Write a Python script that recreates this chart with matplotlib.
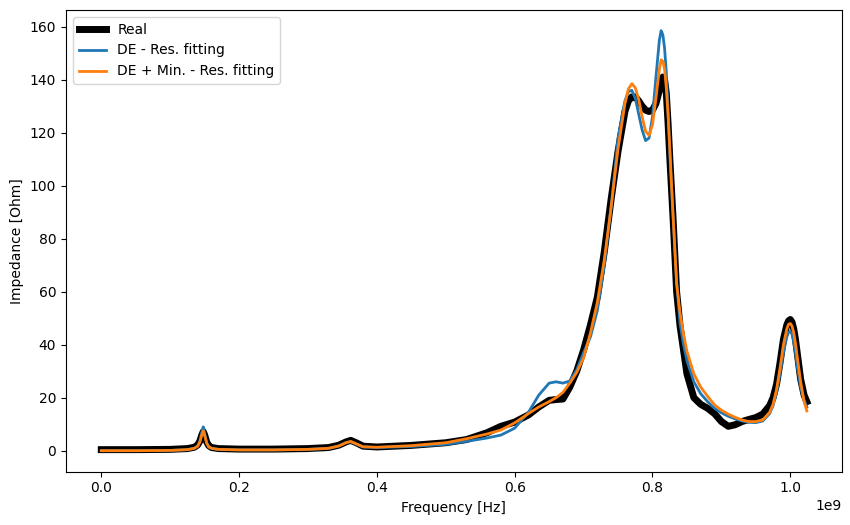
import numpy as np
import matplotlib
matplotlib.use("Agg")
import matplotlib.pyplot as plt

# Frequency grid in GHz (shared by all series)
freq_ghz = [0.0, 0.05, 0.10, 0.125, 0.135, 0.14, 0.143, 0.146, 0.148, 0.150, 0.153, 0.156,
            0.16, 0.17, 0.2, 0.25, 0.3, 0.33, 0.345, 0.355, 0.362, 0.37, 0.38, 0.4, 0.45,
            0.5, 0.53, 0.56, 0.58, 0.6, 0.62, 0.635, 0.65, 0.66, 0.67, 0.68, 0.69, 0.70,
            0.71, 0.72, 0.73, 0.74, 0.75, 0.76, 0.765, 0.77, 0.775, 0.78, 0.785, 0.79,
            0.795, 0.80, 0.805, 0.81, 0.8125, 0.815, 0.8175, 0.82, 0.8225, 0.825, 0.8275,
            0.83, 0.835, 0.84, 0.845,
            0.85, 0.86, 0.87, 0.88, 0.89, 0.90, 0.91, 0.92, 0.93, 0.94, 0.95, 0.96, 0.97,
            0.975, 0.98, 0.985, 0.99, 0.995, 0.9975, 1.0, 1.0025, 1.005, 1.0075, 1.01,
            1.015, 1.02, 1.024]

real = [0.4, 0.4, 0.5, 0.8, 1.3, 2.2, 3.6, 6.0, 7.2, 6.0, 3.3, 1.9,
        1.2, 0.8, 0.6, 0.6, 0.8, 1.2, 2.1, 3.3, 3.9, 3.0, 1.7, 1.4, 2.0,
        3.0, 4.2, 6.8, 9.2, 10.8, 13.5, 16.5, 19.0, 19.3, 19.5, 24.0, 30.0, 38.0,
        47.5, 58.0, 75.0, 95.0, 113.0, 128.0, 132.0, 133.5, 133.5, 132.0, 130.0, 128.5,
        128.0, 128.5, 131.0, 136.0, 139.5, 141.0, 140.0, 135.0, 124.0, 111.0, 99.0,
        87.0, 60.0, 47.0, 38.0,
        29.0, 20.0, 17.5, 16.0, 14.0, 11.0, 9.2, 9.8, 11.0, 11.8, 12.5, 13.8, 17.0,
        20.0, 25.0, 33.0, 42.0, 47.5, 49.0, 49.5, 48.5, 46.0, 42.0, 37.0,
        27.0, 21.0, 18.5]

de_fit = [0.0, 0.0, 0.1, 0.4, 0.9, 1.8, 3.5, 7.0, 9.0, 6.5, 3.0, 1.5,
          0.9, 0.5, 0.3, 0.3, 0.5, 0.9, 1.8, 3.0, 3.4, 2.5, 1.4, 1.2, 1.6,
          2.4, 3.5, 4.8, 5.9, 8.5, 14.5, 21.0, 25.5, 26.0, 25.5, 26.3, 30.5, 37.0,
          43.0, 53.0, 70.0, 92.0, 118.0, 132.0, 135.5, 136.0, 133.0, 127.0, 121.0, 117.0,
          118.0, 126.0, 141.0, 155.0, 158.5, 157.0, 152.0, 143.0, 129.0, 113.0, 100.0,
          88.0, 64.0, 48.0, 40.0,
          34.0, 26.0, 21.5, 18.5, 16.0, 14.3, 13.0, 12.0, 11.2, 10.7, 10.6, 11.2, 14.0,
          17.0, 22.0, 29.0, 37.0, 43.0, 44.7, 45.0, 44.0, 41.0, 37.0, 32.0,
          24.0, 19.0, 16.5]

de_min_fit = [0.0, 0.0, 0.1, 0.4, 0.9, 1.7, 3.2, 6.0, 7.5, 5.8, 2.8, 1.4,
              0.9, 0.5, 0.3, 0.3, 0.5, 0.9, 1.8, 3.0, 3.5, 2.6, 1.5, 1.3, 1.9,
              3.0, 4.5, 6.3, 7.8, 10.5, 14.0, 16.5, 18.5, 20.0, 22.0, 25.5, 29.5, 35.0,
              44.5, 56.0, 72.0, 92.0, 114.0, 131.0, 136.5, 138.5, 137.0, 132.5, 126.0, 120.5,
              119.0, 123.0, 133.0, 144.0, 147.5, 147.0, 144.0, 137.0, 127.0, 115.0, 101.0,
              88.0, 63.0, 52.0, 44.0,
              37.5, 29.0, 24.0, 20.5, 17.3, 15.3, 13.8, 12.6, 11.6, 11.0, 11.0, 11.6, 14.5,
              17.5, 23.0, 31.0, 40.0, 46.0, 47.7, 48.0, 47.0, 44.5, 40.5, 35.5,
              26.0, 18.5, 15.0]

freq = np.array(freq_ghz) * 1e9

fig = plt.figure(figsize=(8.5, 5.25), dpi=100)
ax = fig.add_axes([66 / 850, (525 - 471.5) / 525, 775.7 / 850, 461.5 / 525])

ax.plot(freq, real, color="black", lw=5, label="Real")
ax.plot(freq, de_fit, color="#1f77b4", lw=2, label="DE - Res. fitting")
ax.plot(freq, de_min_fit, color="#ff7f0e", lw=2, label="DE + Min. - Res. fitting")

ax.set_xlim(-0.0512e9, 1.0746e9)
ax.set_ylim(-7.85, 166.3)
ax.set_xlabel("Frequency [Hz]")
ax.set_ylabel("Impedance [Ohm]")
ax.legend(loc="upper left")

fig.savefig("out.png", dpi=100)
